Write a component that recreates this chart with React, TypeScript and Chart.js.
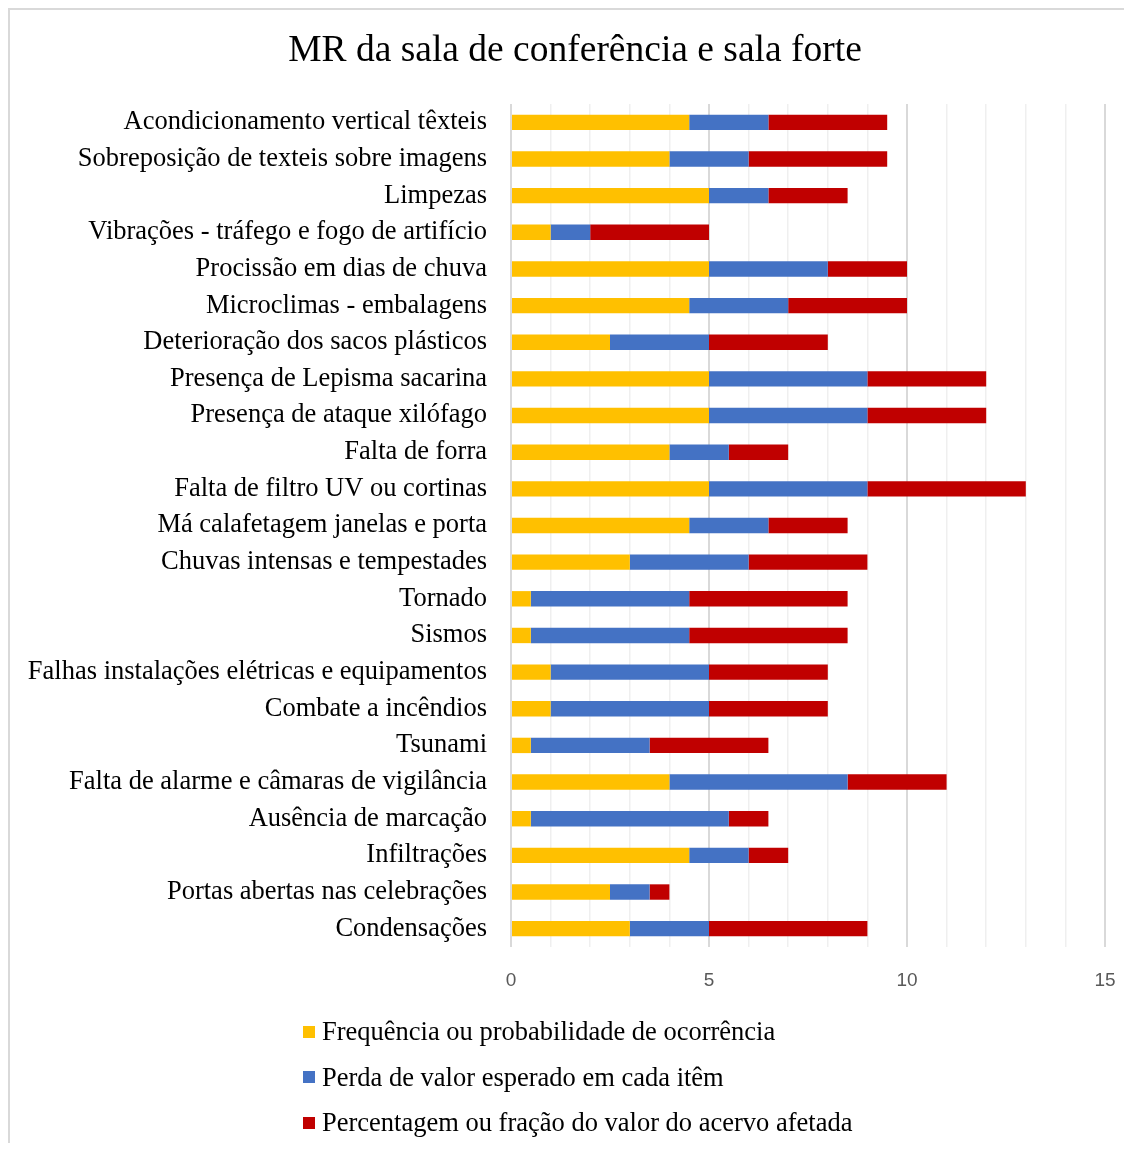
import React, { useEffect, useRef } from "react";
import { Chart, registerables } from "chart.js";

Chart.register(...registerables);

const TITLE = "MR da sala de conferência e sala forte";

const categories = [
  "Acondicionamento vertical têxteis",
  "Sobreposição de texteis sobre imagens",
  "Limpezas",
  "Vibrações - tráfego e fogo de artifício",
  "Procissão em dias de chuva",
  "Microclimas - embalagens",
  "Deterioração dos sacos plásticos",
  "Presença de Lepisma sacarina",
  "Presença de ataque xilófago",
  "Falta de forra",
  "Falta de filtro UV ou cortinas",
  "Má calafetagem janelas e porta",
  "Chuvas intensas e tempestades",
  "Tornado",
  "Sismos",
  "Falhas instalações elétricas e equipamentos",
  "Combate a incêndios",
  "Tsunami",
  "Falta de alarme e câmaras de vigilância",
  "Ausência de marcação",
  "Infiltrações",
  "Portas abertas nas celebrações",
  "Condensações",
];

const frequencia = [4.5, 4, 5, 1, 5, 4.5, 2.5, 5, 5, 4, 5, 4.5, 3, 0.5, 0.5, 1, 1, 0.5, 4, 0.5, 4.5, 2.5, 3];
const perda = [2, 2, 1.5, 1, 3, 2.5, 2.5, 4, 4, 1.5, 4, 2, 3, 4, 4, 4, 4, 3, 4.5, 5, 1.5, 1, 2];
const percentagem = [3, 3.5, 2, 3, 2, 3, 3, 3, 3, 1.5, 4, 2, 3, 4, 4, 3, 3, 3, 2.5, 1, 1, 0.5, 4];

const seriesNames = [
  "Frequência ou probabilidade de ocorrência",
  "Perda de valor esperado em cada itêm",
  "Percentagem ou fração do valor do acervo afetada",
];
const seriesColors = ["#FFC000", "#4472C4", "#C00000"];

const xMin = 0;
const xMax = 15;
const xStep = 1;
const xLabelEvery = 5;

const SERIF = "'Liberation Serif', 'Times New Roman', serif";

export default function App() {
  const canvasRef = useRef<HTMLCanvasElement | null>(null);

  useEffect(() => {
    const canvas = canvasRef.current;
    if (!canvas) return;
    const seriesData = [frequencia, perda, percentagem];
    const chart = new Chart(canvas, {
      type: "bar",
      data: {
        labels: categories,
        datasets: seriesNames.map((name, i) => ({
          label: name,
          data: seriesData[i],
          backgroundColor: seriesColors[i],
          borderWidth: 0,
          barPercentage: 0.42,
          categoryPercentage: 1,
        })),
      },
      options: {
        indexAxis: "y",
        animation: false,
        responsive: false,
        maintainAspectRatio: false,
        layout: { padding: { left: 0, right: 0, top: 0, bottom: 146 } },
        plugins: {
          legend: { display: false },
          tooltip: { enabled: false },
          title: {
            display: true,
            text: TITLE,
            color: "#000000",
            font: { family: SERIF, size: 37.5, weight: "normal", lineHeight: 1.2 },
            padding: { top: 19, bottom: 30 },
          },
        },
        scales: {
          x: {
            type: "linear",
            stacked: true,
            min: xMin,
            max: xMax,
            border: { display: false },
            grid: {
              drawTicks: false,
              color: (ctx: any) => (ctx.tick && ctx.tick.value % xLabelEvery === 0 ? "#D9D9D9" : "#EFEFEF"),
              lineWidth: (ctx: any) => (ctx.tick && ctx.tick.value % xLabelEvery === 0 ? 2 : 1.5),
            },
            ticks: {
              stepSize: xStep,
              autoSkip: false,
              maxRotation: 0,
              padding: 22,
              color: "#595959",
              font: { family: "'Liberation Sans', Arial, sans-serif", size: 19 },
              callback: (v: any) => (Number(v) % xLabelEvery === 0 ? String(v) : ""),
            },
            afterFit: (scale: any) => {
              scale.height = 50;
              scale.paddingRight = 35;
              scale.paddingLeft = 0;
            },
          },
          y: {
            stacked: true,
            border: { display: false },
            grid: { display: false, drawTicks: false },
            ticks: {
              autoSkip: false,
              padding: 24,
              color: "#000000",
              font: { family: SERIF, size: 26.5 },
            },
            afterFit: (scale: any) => {
              scale.width = 501;
            },
          },
        },
      },
    });
    return () => chart.destroy();
  }, []);

  return (
    <div
      style={{
        position: "relative",
        width: 1114,
        height: 1133,
        borderTop: "2px solid #D9D9D9",
        borderLeft: "2px solid #D9D9D9",
        background: "#FFFFFF",
        overflow: "hidden",
      }}
    >
      <canvas ref={canvasRef} width={1130} height={1133} style={{ display: "block" }} />
      <div
        style={{
          position: "absolute",
          left: 293,
          top: 999,
          fontFamily: SERIF,
          fontSize: 26.5,
          color: "#000000",
        }}
      >
        {seriesNames.map((name, i) => (
          <div key={name} style={{ display: "flex", alignItems: "center", height: 45.5, whiteSpace: "nowrap" }}>
            <span
              style={{ display: "inline-block", width: 12, height: 12, background: seriesColors[i], marginRight: 7 }}
            />
            <span>{name}</span>
          </div>
        ))}
      </div>
    </div>
  );
}
